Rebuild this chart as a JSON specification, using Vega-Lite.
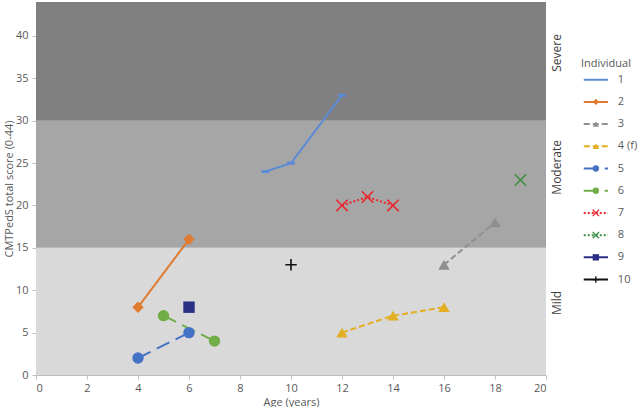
{
  "$schema": "https://vega.github.io/schema/vega-lite/v6.json",
  "padding": {"left": 3, "top": 2, "right": 0, "bottom": 0},
  "background": "white",
  "spacing": 35,
  "bounds": "flush",
  "config": {
    "font": "Open Sans",
    "view": {"stroke": null},
    "axis": {
      "grid": false,
      "domainColor": "#bfbfbf",
      "tickColor": "#bfbfbf",
      "tickSize": 4,
      "labelColor": "#595959",
      "titleColor": "#595959",
      "labelFontSize": 11,
      "titleFontSize": 11,
      "titleFontWeight": "normal"
    }
  },
  "datasets": {
    "scores": [
      {"Individual": "1", "age": 9, "score": 24},
      {"Individual": "1", "age": 10, "score": 25},
      {"Individual": "1", "age": 12, "score": 33},
      {"Individual": "2", "age": 4, "score": 8},
      {"Individual": "2", "age": 6, "score": 16},
      {"Individual": "3", "age": 16, "score": 13},
      {"Individual": "3", "age": 18, "score": 18},
      {"Individual": "4 (f)", "age": 12, "score": 5},
      {"Individual": "4 (f)", "age": 14, "score": 7},
      {"Individual": "4 (f)", "age": 16, "score": 8},
      {"Individual": "5", "age": 4, "score": 2},
      {"Individual": "5", "age": 6, "score": 5},
      {"Individual": "6", "age": 5, "score": 7},
      {"Individual": "6", "age": 7, "score": 4},
      {"Individual": "7", "age": 12, "score": 20},
      {"Individual": "7", "age": 13, "score": 21},
      {"Individual": "7", "age": 14, "score": 20},
      {"Individual": "8", "age": 19, "score": 23},
      {"Individual": "9", "age": 6, "score": 8},
      {"Individual": "10", "age": 10, "score": 13}
    ],
    "bands": [
      {"band": "Mild", "lo": 0, "hi": 15, "ly": 8.5},
      {"band": "Moderate", "lo": 15, "hi": 30, "ly": 24.5},
      {"band": "Severe", "lo": 30, "hi": 44, "ly": 38}
    ],
    "legend": [
      {"Individual": "1", "k": 1},
      {"Individual": "2", "k": 2},
      {"Individual": "3", "k": 3},
      {"Individual": "4 (f)", "k": 4},
      {"Individual": "5", "k": 5},
      {"Individual": "6", "k": 6},
      {"Individual": "7", "k": 7},
      {"Individual": "8", "k": 8},
      {"Individual": "9", "k": 9},
      {"Individual": "10", "k": 10}
    ]
  },
  "hconcat": [
    {
      "width": 510,
      "height": 373,
      "layer": [
        {
          "data": {"name": "bands"},
          "mark": {"type": "rect"},
          "encoding": {
            "y": {"field": "lo", "type": "quantitative", "scale": {"domain": [0, 44], "nice": false}},
            "y2": {"field": "hi"},
            "fill": {"field": "band", "type": "nominal", "scale": {"domain": ["Mild", "Moderate", "Severe"], "range": ["#d9d9d9", "#a6a6a6", "#808080"]}, "legend": null}
          }
        },
        {
          "data": {"name": "scores"},
          "mark": {"type": "line", "strokeWidth": 2},
          "encoding": {
            "x": {"field": "age", "type": "quantitative", "scale": {"domain": [0, 20], "nice": false}, "axis": {"title": "Age (years)", "values": [0, 2, 4, 6, 8, 10, 12, 14, 16, 18, 20], "labelPadding": 3, "titlePadding": 3}},
            "y": {"field": "score", "type": "quantitative", "scale": {"domain": [0, 44], "nice": false}, "axis": {"title": "CMTPedS total score (0-44)", "values": [0, 5, 10, 15, 20, 25, 30, 35, 40], "labelPadding": 4, "titlePadding": 1}},
            "color": {"field": "Individual", "type": "nominal", "scale": {"domain": ["1", "2", "3", "4 (f)", "5", "6", "7", "8", "9", "10"], "range": ["#5b8bd6", "#e07a2e", "#8f8f8f", "#e3ae22", "#4472c4", "#70ad47", "#e8282e", "#3f8f45", "#2b2f85", "#111111"]}, "legend": null},
            "strokeDash": {"field": "Individual", "type": "nominal", "scale": {"domain": ["1", "2", "3", "4 (f)", "5", "6", "7", "8", "9", "10"], "range": [[1, 0], [1, 0], [6, 3], [6, 3], [14, 7], [14, 7], [2, 2], [2, 2], [1, 0], [1, 0]]}, "legend": null}
          }
        },
        {
          "data": {"name": "scores"},
          "transform": [{"filter": {"field": "Individual", "oneOf": ["2", "3", "4 (f)", "5", "6", "9"]}}],
          "mark": {"type": "point", "filled": true, "opacity": 1, "size": 130},
          "encoding": {
            "x": {"field": "age", "type": "quantitative"},
            "y": {"field": "score", "type": "quantitative"},
            "color": {"field": "Individual", "type": "nominal", "legend": null},
            "shape": {"field": "Individual", "type": "nominal", "scale": {"domain": ["1", "2", "3", "4 (f)", "5", "6", "7", "8", "9", "10"], "range": ["M-1,0H1", "diamond", "triangle-up", "triangle-up", "circle", "circle", "M-1,-1L1,1M-1,1L1,-1", "M-1,-1L1,1M-1,1L1,-1", "square", "M-1,0H1M0,-1V1"]}, "legend": null}
          }
        },
        {
          "data": {"name": "scores"},
          "transform": [{"filter": {"field": "Individual", "oneOf": ["7", "8", "10"]}}],
          "mark": {"type": "point", "filled": false, "opacity": 1, "strokeWidth": 1.6, "size": 130},
          "encoding": {
            "x": {"field": "age", "type": "quantitative"},
            "y": {"field": "score", "type": "quantitative"},
            "color": {"field": "Individual", "type": "nominal", "legend": null},
            "shape": {"field": "Individual", "type": "nominal", "legend": null}
          }
        },
        {
          "data": {"name": "scores"},
          "transform": [{"filter": {"field": "Individual", "equal": "1"}}],
          "mark": {"type": "point", "filled": false, "opacity": 1, "strokeWidth": 3, "size": 60, "shape": "M-1,0H1"},
          "encoding": {
            "x": {"field": "age", "type": "quantitative"},
            "y": {"field": "score", "type": "quantitative"},
            "color": {"field": "Individual", "type": "nominal", "legend": null}
          }
        },
        {
          "data": {"name": "bands"},
          "mark": {"type": "text", "angle": 270, "align": "center", "baseline": "middle", "dx": 0, "dy": 11, "fontSize": 12, "color": "#404040"},
          "encoding": {
            "x": {"datum": 20, "type": "quantitative"},
            "y": {"field": "ly", "type": "quantitative"},
            "text": {"field": "band"}
          }
        }
      ]
    },
    {
      "width": 55,
      "height": 373,
      "layer": [
        {
          "data": {"values": [{"t": "Individual", "k": 0.3}]},
          "mark": {"type": "text", "align": "left", "baseline": "middle", "fontSize": 11, "color": "#595959"},
          "encoding": {
            "x": {"datum": 0, "type": "quantitative", "scale": {"domain": [0, 1]}, "axis": null},
            "y": {"field": "k", "type": "quantitative", "scale": {"domain": [-2.5, 14.3], "reverse": true, "nice": false, "zero": false}, "axis": null},
            "text": {"field": "t"}
          }
        },
        {
          "data": {"name": "legend"},
          "mark": {"type": "rule", "strokeWidth": 2},
          "encoding": {
            "x": {"datum": 0.05, "type": "quantitative"},
            "x2": {"datum": 0.49},
            "y": {"field": "k", "type": "quantitative"},
            "color": {"field": "Individual", "type": "nominal", "scale": {"domain": ["1", "2", "3", "4 (f)", "5", "6", "7", "8", "9", "10"], "range": ["#5b8bd6", "#e07a2e", "#8f8f8f", "#e3ae22", "#4472c4", "#70ad47", "#e8282e", "#3f8f45", "#2b2f85", "#111111"]}, "legend": null},
            "strokeDash": {"field": "Individual", "type": "nominal", "scale": {"domain": ["1", "2", "3", "4 (f)", "5", "6", "7", "8", "9", "10"], "range": [[1, 0], [1, 0], [4, 3], [4, 3], [12, 6], [12, 6], [2, 2], [2, 2], [1, 0], [1, 0]]}, "legend": null}
          }
        },
        {
          "data": {"name": "legend"},
          "transform": [{"filter": {"field": "Individual", "oneOf": ["2", "3", "4 (f)", "5", "6", "9"]}}],
          "mark": {"type": "point", "filled": true, "opacity": 1, "size": 40},
          "encoding": {
            "x": {"datum": 0.27, "type": "quantitative"},
            "y": {"field": "k", "type": "quantitative"},
            "color": {"field": "Individual", "type": "nominal", "legend": null},
            "shape": {"field": "Individual", "type": "nominal", "scale": {"domain": ["1", "2", "3", "4 (f)", "5", "6", "7", "8", "9", "10"], "range": ["M-1,0H1", "diamond", "triangle-up", "triangle-up", "circle", "circle", "M-1,-1L1,1M-1,1L1,-1", "M-1,-1L1,1M-1,1L1,-1", "square", "M-1,0H1M0,-1V1"]}, "legend": null}
          }
        },
        {
          "data": {"name": "legend"},
          "transform": [{"filter": {"field": "Individual", "oneOf": ["7", "8", "10"]}}],
          "mark": {"type": "point", "filled": false, "opacity": 1, "strokeWidth": 1.3, "size": 40},
          "encoding": {
            "x": {"datum": 0.27, "type": "quantitative"},
            "y": {"field": "k", "type": "quantitative"},
            "color": {"field": "Individual", "type": "nominal", "legend": null},
            "shape": {"field": "Individual", "type": "nominal", "legend": null}
          }
        },
        {
          "data": {"name": "legend"},
          "mark": {"type": "text", "align": "left", "baseline": "middle", "fontSize": 11, "color": "#595959"},
          "encoding": {
            "x": {"datum": 0.67, "type": "quantitative"},
            "y": {"field": "k", "type": "quantitative"},
            "text": {"field": "Individual"}
          }
        }
      ]
    }
  ]
}
